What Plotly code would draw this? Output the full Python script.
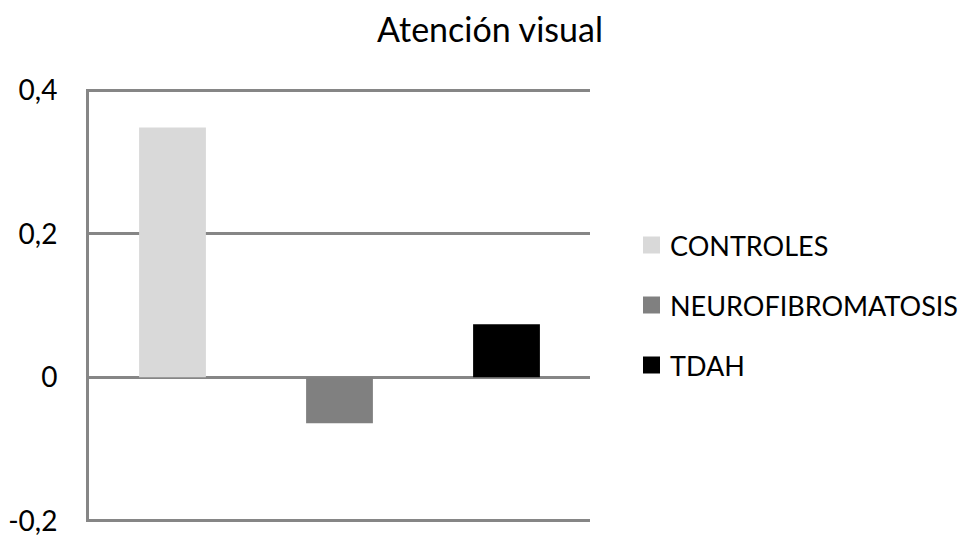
import plotly.graph_objects as go

# Data
groups = ["CONTROLES", "NEUROFIBROMATOSIS", "TDAH"]
values = [0.348, -0.064, 0.074]
colors = ["#d9d9d9", "#808080", "#000000"]
tick_vals = [-0.2, 0, 0.2, 0.4]
tick_text = ["-0,2", "0", "0,2", "0,4"]

W, H = 962, 538
L, R, T, B = 89, 372, 89, 16
plot_w = W - L - R
plot_h = H - T - B

FONT = "Lato"
GRID = "#868686"
PAD = 0.0015  # keeps the outer gridlines (-0,2 and 0,4) inside the plot area

fig = go.Figure()
for g, v, c in zip(groups, values, colors):
    fig.add_trace(go.Bar(
        x=[g], y=[v], name=g, marker=dict(color=c, line=dict(width=0)),
        width=0.4, showlegend=False,
    ))

# Legend drawn as swatches + labels to get the larger square keys
shapes = []
annotations = []
sw = 17
for i, (g, c) in enumerate(zip(groups, colors)):
    cy = 245 + 60 * i
    x0 = (643 - L) / plot_w
    x1 = (643 + sw - L) / plot_w
    y0 = (H - B - (cy + sw / 2)) / plot_h
    y1 = (H - B - (cy - sw / 2)) / plot_h
    shapes.append(dict(type="rect", xref="paper", yref="paper",
                       x0=x0, x1=x1, y0=y0, y1=y1,
                       fillcolor=c, line=dict(width=0)))
    annotations.append(dict(xref="paper", yref="paper",
                            x=(668 - L) / plot_w, y=(H - B - cy) / plot_h,
                            xanchor="left", yanchor="middle", showarrow=False,
                            text=g, font=dict(family=FONT, size=27, color="#000000")))

fig.update_layout(
    width=W, height=H,
    margin=dict(l=L, r=R, t=T, b=B, autoexpand=False),
    paper_bgcolor="white", plot_bgcolor="white",
    barmode="overlay",
    title=dict(text="Atención visual", xref="paper", x=(490 - L) / plot_w,
               xanchor="center", yref="container", y=1 - 30 / H, yanchor="middle",
               font=dict(family=FONT, size=34, color="#000000")),
    xaxis=dict(type="category", categoryarray=groups, range=[-0.5, 2.5],
               showticklabels=False, showgrid=False, zeroline=False,
               showline=False, ticks="", automargin=False),
    yaxis=dict(range=[-0.2 - PAD, 0.4 + PAD], tickvals=tick_vals, ticktext=tick_text,
               showgrid=True, gridcolor=GRID, gridwidth=3,
               zeroline=True, zerolinecolor=GRID, zerolinewidth=3,
               showline=True, linecolor=GRID, linewidth=3,
               ticks="", ticklabelstandoff=23, automargin=False,
               tickfont=dict(family=FONT, size=28, color="#000000")),
    shapes=shapes,
    annotations=annotations,
    showlegend=False,
)

fig.write_html("out.html")
